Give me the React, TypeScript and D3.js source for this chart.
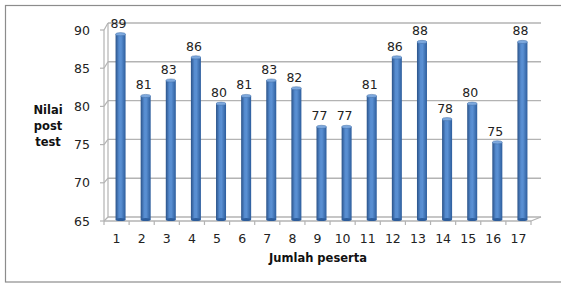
import * as d3 from 'd3'

const categories = ['1', '2', '3', '4', '5', '6', '7', '8', '9', '10', '11', '12', '13', '14', '15', '16', '17']
const values = [89, 81, 83, 86, 80, 81, 83, 82, 77, 77, 81, 86, 88, 78, 80, 75, 88]
const yTicks = [65, 70, 75, 80, 85, 90]
const xTitle = 'Jumlah peserta'
const yTitle = ['Nilai', 'post', 'test']

export default function App() {
  const width = 561
  const height = 284
  const font = '"DejaVu Sans", Verdana, sans-serif'

  // front plane and back wall (pseudo 3D like the spreadsheet chart)
  const x = d3.scaleBand().domain(categories).range([104, 531])
  const yFront = d3.scaleLinear().domain([65, 90]).range([221, 30])
  const yBack = d3.scaleLinear().domain([65, 90]).range([217, 23])
  const yMid = d3.scaleLinear().domain([65, 90]).range([219.5, 26.5])
  const backLeft = 108
  const backRight = 541
  const barW = 10
  const grid = '#b3b3b3'

  return (
    <svg width={width} height={height} style={{ position: 'absolute', left: 0, top: 0, background: '#fff' }}>
      <defs>
        <linearGradient id="cyl" x1="0" x2="1" y1="0" y2="0">
          <stop offset="0" stopColor="#2a5288" />
          <stop offset="0.35" stopColor="#568cd0" />
          <stop offset="0.55" stopColor="#5a90d3" />
          <stop offset="1" stopColor="#2d5d9c" />
        </linearGradient>
      </defs>
      <rect x={5.5} y={5.5} width={562} height={276.5} fill="#fff" stroke="#8c8c8c" strokeWidth={1.2} />

      {/* back wall gridlines */}
      {yTicks.map((t) => (
        <line key={'g' + t} x1={backLeft} x2={backRight} y1={yBack(t)} y2={yBack(t)} stroke={grid} strokeWidth={1.4} />
      ))}
      <line x1={backLeft} x2={backLeft} y1={yBack(90)} y2={yBack(65)} stroke={grid} strokeWidth={1.2} />

      {/* left wall ticks and diagonals */}
      <line x1={104} x2={104} y1={yFront(90)} y2={yFront(65)} stroke={grid} strokeWidth={1.2} />
      {yTicks.map((t) => (
        <g key={'t' + t}>
          <line x1={100} x2={104} y1={yFront(t)} y2={yFront(t)} stroke={grid} strokeWidth={1.2} />
          <line x1={104} x2={backLeft} y1={yFront(t)} y2={yBack(t)} stroke={grid} strokeWidth={1.2} />
          <text x={90} y={yFront(t)} dy="0.36em" textAnchor="end" fontFamily={font} fontSize={12.5} fill="#222">
            {t}
          </text>
        </g>
      ))}

      {/* floor */}
      <line x1={104} x2={531} y1={yFront(65)} y2={yFront(65)} stroke={grid} strokeWidth={1.4} />
      <line x1={531} x2={backRight} y1={yFront(65)} y2={yBack(65)} stroke={grid} strokeWidth={1.2} />
      {categories.map((c) => (
        <line key={'xt' + c} x1={x(c)!} x2={x(c)!} y1={yFront(65)} y2={yFront(65) + 4} stroke={grid} strokeWidth={1.2} />
      ))}
      <line x1={531} x2={531} y1={yFront(65)} y2={yFront(65) + 4} stroke={grid} strokeWidth={1.2} />

      {/* bars */}
      {values.map((v, i) => {
        const cx = x(categories[i])! + x.bandwidth() / 2 + 4
        const top = yMid(v)
        const bottom = yMid(65)
        return (
          <g key={'b' + i}>
            <rect x={cx - barW / 2} y={top} width={barW} height={bottom - top} fill="url(#cyl)" />
            <ellipse cx={cx} cy={bottom} rx={barW / 2} ry={1.6} fill="#2d5d9c" />
            <ellipse cx={cx} cy={top} rx={barW / 2} ry={1.6} fill="#7ea9de" stroke="#3d6aa5" strokeWidth={0.5} />
            <text x={cx - 2} y={top - 11} dy="0.36em" textAnchor="middle" fontFamily={font} fontSize={12.5} fill="#222">
              {v}
            </text>
          </g>
        )
      })}

      {/* category labels */}
      {categories.map((c) => (
        <text key={'xl' + c} x={x(c)! + x.bandwidth() / 2} y={238} dy="0.36em" textAnchor="middle" fontFamily={font} fontSize={12.5} fill="#222">
          {c}
        </text>
      ))}

      <text x={318} y={258} dy="0.36em" textAnchor="middle" fontFamily={font} fontSize={11.5} fontWeight="bold" fill="#111">
        {xTitle}
      </text>
      {yTitle.map((s, i) => (
        <text key={s} x={48} y={110 + i * 16} dy="0.36em" textAnchor="middle" fontFamily={font} fontSize={11.5} fontWeight="bold" fill="#111">
          {s}
        </text>
      ))}
    </svg>
  )
}
